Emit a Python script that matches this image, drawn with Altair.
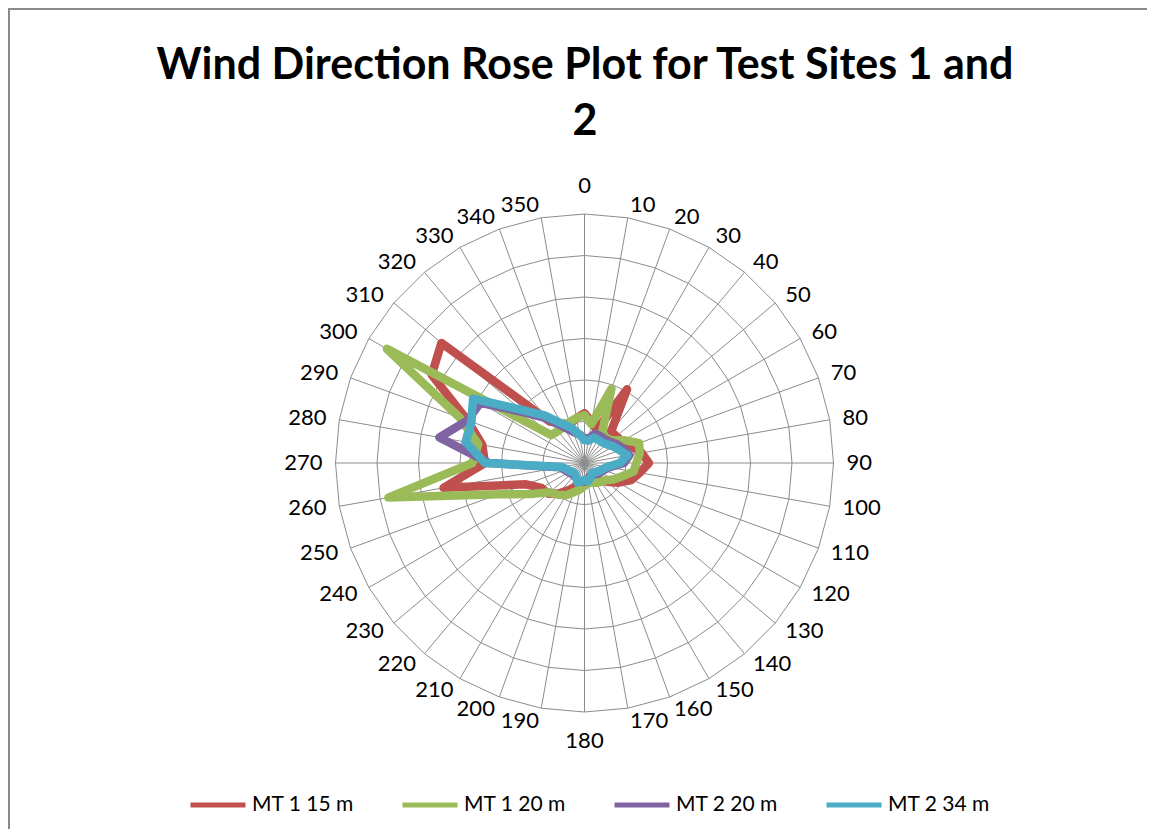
import altair as alt
import pandas as pd

# ---------------- data ----------------
angles = list(range(0, 360, 10))
series_names = ["MT 1 15 m", "MT 1 20 m", "MT 2 20 m", "MT 2 34 m"]
series_colors = ["#C0504D", "#9BBB59", "#8064A2", "#4BACC6"]

mt1_15 = [1.2, 1.0, 0.85, 2.05, 1.0, 1.0, 1.05, 1.2, 1.4, 1.55, 1.35, 1.2,
          0.95, 0.7, 0.55, 0.45, 0.4, 0.4, 0.45, 0.5, 0.6, 0.75, 0.95, 1.15,
          1.2, 1.5, 3.45, 2.4, 2.5, 3.0, 4.25, 4.5, 1.3, 1.1, 1.0, 1.1]
mt1_20 = [1.15, 0.95, 1.9, 0.85, 0.8, 0.85, 1.1, 1.4, 1.35, 1.25, 1.2, 0.95,
          0.8, 0.65, 0.6, 0.55, 0.5, 0.5, 0.55, 0.65, 0.75, 0.9, 1.0, 1.1,
          1.5, 2.2, 4.8, 2.7, 2.6, 3.2, 5.5, 1.05, 1.0, 1.0, 1.05, 1.1]
mt2_20 = [0.6, 0.6, 0.75, 0.75, 0.75, 0.8, 0.9, 1.0, 1.1, 0.95, 0.6, 0.5,
          0.45, 0.4, 0.35, 0.35, 0.35, 0.4, 0.45, 0.45, 0.45, 0.4, 0.4, 0.4,
          0.45, 0.5, 0.6, 2.3, 3.55, 3.0, 2.9, 1.9, 1.4, 1.0, 0.8, 0.7]
mt2_34 = [0.55, 0.55, 0.65, 0.65, 0.65, 0.7, 0.8, 0.9, 1.05, 0.85, 0.55, 0.45,
          0.4, 0.35, 0.3, 0.35, 0.4, 0.45, 0.4, 0.45, 0.5, 0.4, 0.35, 0.35,
          0.4, 0.45, 0.55, 2.4, 2.9, 2.9, 3.1, 2.0, 1.5, 1.1, 0.9, 0.7]

ring_levels = [1, 2, 3, 4, 5, 6]
angle_labels = [str(a) for a in angles]
title_lines = ["Wind Direction Rose Plot for Test Sites 1 and", "2"]

# ---------------- layout ----------------
W, H = 1139, 821
CX, CY = 576.5, 455.0
PX = 41.5                      # pixels per ring unit
LABEL_R = 262 / PX
x_dom = [-CX / PX, (W - CX) / PX]
y_dom = [-(H - CY) / PX, CY / PX]
FONT = "Lato"

xs = alt.Scale(domain=x_dom, nice=False, zero=False)
ys = alt.Scale(domain=y_dom, nice=False, zero=False)

rows = []
for name, vals in zip(series_names, [mt1_15, mt1_20, mt2_20, mt2_34]):
    closed_a = angles + [360]
    closed_v = vals + [vals[0]]
    for i, (a, v) in enumerate(zip(closed_a, closed_v)):
        rows.append({"series": name, "angle": a, "value": v, "order": i})
df = pd.DataFrame(rows)

ring_rows = []
for lv in ring_levels:
    for i, a in enumerate(angles + [360]):
        ring_rows.append({"level": lv, "angle": a, "order": i})
df_rings = pd.DataFrame(ring_rows)

df_spokes = pd.DataFrame({"angle": angles, "outer": [max(ring_levels)] * len(angles)})
df_labels = pd.DataFrame({"angle": angles, "label": angle_labels})

rad = "datum.angle * PI / 180"

rings = alt.Chart(df_rings).transform_calculate(
    x=f"datum.level * sin({rad})", y=f"datum.level * cos({rad})"
).mark_line(color="#8c8c8c", strokeWidth=1).encode(
    x=alt.X("x:Q", scale=xs, axis=None),
    y=alt.Y("y:Q", scale=ys, axis=None),
    detail="level:N",
    order="order:Q",
)

spokes = alt.Chart(df_spokes).transform_calculate(
    x0="0", y0="0",
    x1=f"datum.outer * sin({rad})", y1=f"datum.outer * cos({rad})"
).mark_rule(color="#8c8c8c", strokeWidth=1).encode(
    x=alt.X("x0:Q", scale=xs, axis=None),
    y=alt.Y("y0:Q", scale=ys, axis=None),
    x2="x1:Q", y2="y1:Q",
)

lab_base = alt.Chart(df_labels).transform_calculate(
    lx=f"{LABEL_R} * sin({rad})", ly=f"{LABEL_R} * cos({rad})"
)
lab_enc = dict(
    x=alt.X("lx:Q", scale=xs, axis=None),
    y=alt.Y("ly:Q", scale=ys, axis=None),
    text="label:N",
)
lab_style = dict(font=FONT, fontSize=22, color="#000000", baseline="middle")
lab_right = lab_base.transform_filter("datum.angle > 0 && datum.angle < 180").mark_text(
    align="left", **lab_style).encode(**lab_enc)
lab_left = lab_base.transform_filter("datum.angle > 180").mark_text(
    align="right", **lab_style).encode(**lab_enc)
lab_top = lab_base.transform_filter("datum.angle == 0").mark_text(
    align="center", dy=-15, **lab_style).encode(**lab_enc)
lab_bot = lab_base.transform_filter("datum.angle == 180").mark_text(
    align="center", dy=16, **lab_style).encode(**lab_enc)

lines = alt.Chart(df).transform_calculate(
    x=f"datum.value * sin({rad})", y=f"datum.value * cos({rad})"
).mark_line(strokeWidth=8.5, strokeJoin="round", strokeCap="round").encode(
    x=alt.X("x:Q", scale=xs, axis=None),
    y=alt.Y("y:Q", scale=ys, axis=None),
    order="order:Q",
    color=alt.Color(
        "series:N",
        scale=alt.Scale(domain=series_names, range=series_colors),
        legend=alt.Legend(
            orient="none", legendX=180, legendY=767, direction="horizontal",
            title=None, symbolType="stroke", symbolStrokeWidth=5,
            symbolSize=3025, labelFontSize=21, labelFont=FONT,
            labelColor="#000000", columnPadding=38, labelOffset=4, padding=0,
        ),
    ),
)

one = pd.DataFrame({"k": [0]})
title = alt.Chart(one).mark_text(
    text=title_lines, font=FONT, fontWeight="bold", fontSize=43,
    lineHeight=56, align="center", baseline="alphabetic", color="#000000",
).encode(x=alt.value(577), y=alt.value(71))

border_top = alt.Chart(one).mark_rule(color="#8a8a8a", strokeWidth=2).encode(
    x=alt.value(0), x2=alt.value(W), y=alt.value(1))
border_left = alt.Chart(one).mark_rule(color="#8a8a8a", strokeWidth=2).encode(
    x=alt.value(1), y=alt.value(0), y2=alt.value(H))

chart = alt.layer(
    border_top, border_left, rings, spokes, lab_right, lab_left, lab_top, lab_bot,
    lines, title,
).properties(
    width=W, height=H,
    autosize=alt.AutoSizeParams(type="none"),
    padding=0,
).configure_view(stroke=None).configure(background="white")

chart.save("out.html", embed_options={"renderer": "svg", "actions": False})
